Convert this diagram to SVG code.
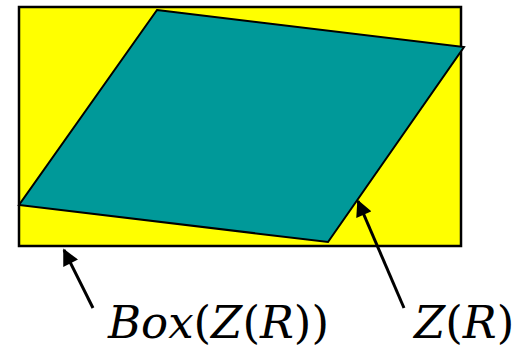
<svg xmlns="http://www.w3.org/2000/svg" width="521" height="348" viewBox="0 0 521 348">
<style>
text{font-family:'DejaVu Serif',serif;font-size:45px;fill:#000}
.it{font-style:italic}
.edge{stroke:#000;stroke-width:3;fill:none}
</style>
<defs>
<marker id="ah" viewBox="0 0 10 10" refX="9" refY="5" markerWidth="6" markerHeight="5.5" orient="auto" markerUnits="strokeWidth">
<path d="M0,0 L10,5 L0,10 z" fill="#000"/>
</marker>
</defs>
<rect width="521" height="348" fill="#fff"/>
<g id="box">
<rect x="19" y="7" width="442" height="239" fill="#ffff00" stroke="#000" stroke-width="2.5"/>
</g>
<g id="zr">
<polygon points="157,10 464,47 328,242 19,205" fill="#009999" stroke="#000" stroke-width="2"/>
</g>
<g id="connectors">
<line class="edge" x1="93" y1="308" x2="64" y2="250" marker-end="url(#ah)"/>
<line class="edge" x1="404" y1="308" x2="358" y2="201" marker-end="url(#ah)"/>
</g>
<g id="label-box">
<text x="108" y="338"><tspan class="it">Box</tspan>(<tspan class="it">Z</tspan>(<tspan class="it">R</tspan>))</text>
</g>
<g id="label-zr">
<text x="414" y="338"><tspan class="it">Z</tspan>(<tspan class="it">R</tspan>)</text>
</g>
</svg>
